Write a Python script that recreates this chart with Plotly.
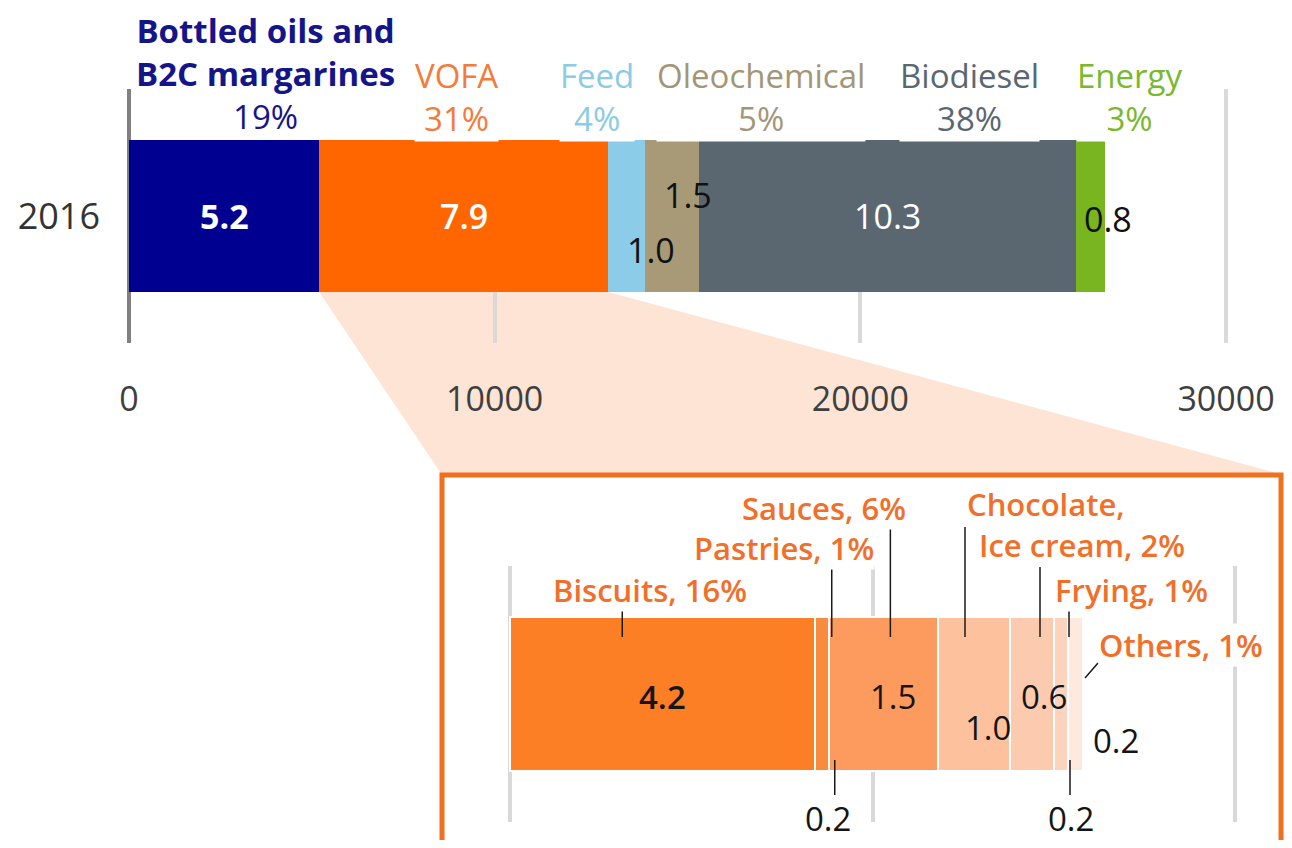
import plotly.graph_objects as go
from itertools import accumulate

# the page keeps the browser's 8px body margin, so the figure is sized to fit inside it
OFF = 8
W, H = 1292 - 2 * OFF, 848 - 2 * OFF

# ---- data (thousand tonnes) ----
year = "2016"
segment_names = ["Bottled oils and<br>B2C margarines", "VOFA", "Feed", "Oleochemical", "Biodiesel", "Energy"]
segment_values = [5200, 7900, 1000, 1500, 10300, 800]
segment_shares = ["19%", "31%", "4%", "5%", "38%", "3%"]
x_ticks = [0, 10000, 20000, 30000]

vofa_values = [4200, 200, 1500, 1000, 600, 200, 200]
vofa_labels = ["Biscuits, 16%", "Pastries, 1%", "Sauces, 6%", "Chocolate,", "Ice cream, 2%", "Frying, 1%", "Others, 1%"]

# ---- styling ----
seg_colors = ["#000090", "#ff6600", "#8bcde8", "#a89a77", "#5b6770", "#78b51f"]
seg_label_colors = ["#15158a", "#f47b3a", "#8ccbe4", "#a39676", "#5b6770", "#7ab82c"]
vofa_colors = ["#fd7f25", "#f98b3f", "#fc9b5d", "#fdc19e", "#fccaae", "#fcd3bd", "#fde9de"]
LABEL_ORANGE = "#f26f2a"
FONT = "Open Sans"


# page pixel -> paper fraction
def px_x(px):
    return (px - OFF) / W


def px_y(py):
    return 1 - (py - OFF) / H


# main axis: 0 at 129px, 30000 at 1226px (page pixels)
MAIN_X0 = 129
MAIN_SCALE = (1226 - 129) / 30000
MAIN_RANGE = [-300, 30300]


def main_px(v):
    return MAIN_X0 + v * MAIN_SCALE


# inner (VOFA) axis: 0 at 510px
IN_X0 = 510
IN_SCALE = 0.0725
IN_DOM = (470, 1270)
IN_RANGE = [(IN_DOM[0] - IN_X0) / IN_SCALE, (IN_DOM[1] - IN_X0) / IN_SCALE]

fig = go.Figure()

for v, c in zip(segment_values, seg_colors):
    fig.add_trace(go.Bar(x=[v], y=[year], orientation="h", width=0.6,
                         marker=dict(color=c, line=dict(width=0)),
                         xaxis="x", yaxis="y", showlegend=False, hoverinfo="skip"))

for v, c in zip(vofa_values, vofa_colors):
    fig.add_trace(go.Bar(x=[v], y=[0], orientation="h", width=1.2,
                         marker=dict(color=c, line=dict(color="white", width=2)),
                         xaxis="x2", yaxis="y2", showlegend=False, hoverinfo="skip"))

seg_ends = list(accumulate(segment_values))
seg_centers = [e - v / 2 for e, v in zip(seg_ends, segment_values)]
vofa_ends = list(accumulate(vofa_values))
vofa_centers = [e - v / 2 for e, v in zip(vofa_ends, vofa_values)]

annotations = []

# category labels above main bar
label_dx = [41, -7, -29, 89, 82, 39]
for i, (name, share, col) in enumerate(zip(segment_names, segment_shares, seg_label_colors)):
    if i == 0:
        annotations.append(dict(
            x=seg_centers[i], xref="x", y=px_y(73), yref="paper",
            text=f"<b>{name}</b><br>{share}", showarrow=False, xshift=label_dx[i],
            yanchor="middle", font=dict(family=FONT, size=33, color=col),
        ))
    else:
        annotations.append(dict(
            x=seg_centers[i], xref="x", y=px_y(142), yref="paper",
            text=f"{name}<br>{share}", showarrow=False, xshift=label_dx[i],
            yanchor="bottom", font=dict(family=FONT, size=33, color=col),
            bgcolor="white", borderpad=0,
        ))

# value labels on main bar
val_shift = [(0, 0), (0, 0), (25, -34), (16, 21), (0, 0), (17, -3)]
val_color = ["white", "white", "#111111", "#111111", "white", "#111111"]
val_weight = [700, 600, 400, 400, 500, 400]
for i, v in enumerate(segment_values):
    annotations.append(dict(
        x=seg_centers[i], xref="x", y=0, yref="y",
        text=f"{v / 1000:.1f}", showarrow=False,
        xshift=val_shift[i][0], yshift=val_shift[i][1],
        font=dict(family=FONT, size=34, color=val_color[i], weight=val_weight[i]),
    ))

# VOFA breakdown labels
vlabel_dx = [-12, 53, 24, -8, -54, -7, 22]
vlabel_y = [590, 548, 508, 504, 545, 590, 645]
vlabel_anchor = ["center", "right", "right", "left", "left", "left", "left"]
for i, lab in enumerate(vofa_labels):
    annotations.append(dict(
        x=vofa_centers[i], xref="x2", y=px_y(vlabel_y[i]), yref="paper",
        text=lab, showarrow=False, xshift=vlabel_dx[i], xanchor=vlabel_anchor[i],
        yanchor="middle", bgcolor="white", borderpad=0,
        font=dict(family=FONT, size=31, color=LABEL_ORANGE, weight=600),
    ))

# VOFA values
vval_shift = [(0, -2), (6, -124), (10, -2), (14, -33), (12, -2), (10, -124), (40, -46)]
vval_weight = [600, 400, 500, 400, 400, 400, 400]
for i, v in enumerate(vofa_values):
    annotations.append(dict(
        x=vofa_centers[i], xref="x2", y=0, yref="y2",
        text=f"{v / 1000:.1f}", showarrow=False,
        xshift=vval_shift[i][0], yshift=vval_shift[i][1],
        font=dict(family=FONT, size=33, color="#151515", weight=vval_weight[i]),
    ))

shapes = []

# zoom funnel from the VOFA segment down to the breakdown box
vofa_start = seg_ends[0]
vofa_end = seg_ends[1]
BOX = (442, 475, 1281, 860)
funnel = (f"M {px_x(main_px(vofa_start))},{px_y(292)} "
          f"L {px_x(main_px(vofa_end))},{px_y(292)} "
          f"L {px_x(BOX[2] + 3)},{px_y(BOX[1])} L {px_x(BOX[0])},{px_y(BOX[1])} Z")
shapes.append(dict(type="path", path=funnel, xref="paper", yref="paper",
                   fillcolor="#fde4d4", line=dict(width=0), layer="below"))
shapes.append(dict(type="rect", xref="paper", yref="paper",
                   x0=px_x(BOX[0]), x1=px_x(BOX[2]), y0=px_y(BOX[3]), y1=px_y(BOX[1]),
                   fillcolor="white", line=dict(color="#f0701e", width=5), layer="below"))

# leader lines (segment index, dx0, y0, dx1, y1) in pixels
leaders = [
    (0, -40, 605, -40, 637),
    (1, 10, 565, 10, 637),
    (1, 13, 760, 13, 795),
    (2, 7, 527, 7, 637),
    (3, -9, 527, -9, 637),
    (4, 8, 567, 8, 637),
    (5, 8, 603, 8, 637),
    (5, 9, 760, 9, 795),
    (6, 9.5, 678, 22.5, 663),
]
for idx, dx0, y0, dx1, y1 in leaders:
    shapes.append(dict(type="line", xref="x2", xsizemode="pixel", xanchor=vofa_centers[idx],
                       x0=dx0, x1=dx1, yref="paper", y0=px_y(y0), y1=px_y(y1),
                       line=dict(color="#1a1a1a", width=1.5), layer="above"))

fig.update_layout(
    width=W, height=H, autosize=False,
    margin=dict(l=0, r=0, t=0, b=0, pad=0),
    paper_bgcolor="white", plot_bgcolor="rgba(0,0,0,0)",
    barmode="stack", showlegend=False,
    font=dict(family=FONT),
    xaxis=dict(domain=[px_x(main_px(MAIN_RANGE[0])), px_x(main_px(MAIN_RANGE[1]))],
               range=MAIN_RANGE, tickvals=x_ticks, tickformat="d", ticks="",
               showgrid=True, gridcolor="#d9d9d9", gridwidth=4,
               zeroline=True, zerolinecolor="#808080", zerolinewidth=4,
               showline=False, ticklabelstandoff=33, automargin=False,
               tickfont=dict(family=FONT, size=34, color="#3f3f3f"), anchor="y"),
    yaxis=dict(domain=[px_y(343), px_y(89)], type="category", range=[-0.5, 0.5],
               showgrid=False, zeroline=False, ticks="", ticklabelstandoff=17,
               automargin=False,
               tickfont=dict(family=FONT, size=36, color="#333333"), anchor="x"),
    xaxis2=dict(domain=[px_x(IN_DOM[0]), px_x(IN_DOM[1])], range=IN_RANGE,
                tick0=0, dtick=5000, showticklabels=False, ticks="",
                showgrid=True, gridcolor="#d9d9d9", gridwidth=4,
                zeroline=True, zerolinecolor="#d9d9d9", zerolinewidth=4,
                showline=False, automargin=False, anchor="y2"),
    yaxis2=dict(domain=[px_y(822), px_y(566)], range=[-1, 1], automargin=False,
                showticklabels=False, showgrid=False, zeroline=False, ticks="", anchor="x2"),
    annotations=annotations,
    shapes=shapes,
)

fig.write_html("out.html", config={"displayModeBar": False, "responsive": False})
